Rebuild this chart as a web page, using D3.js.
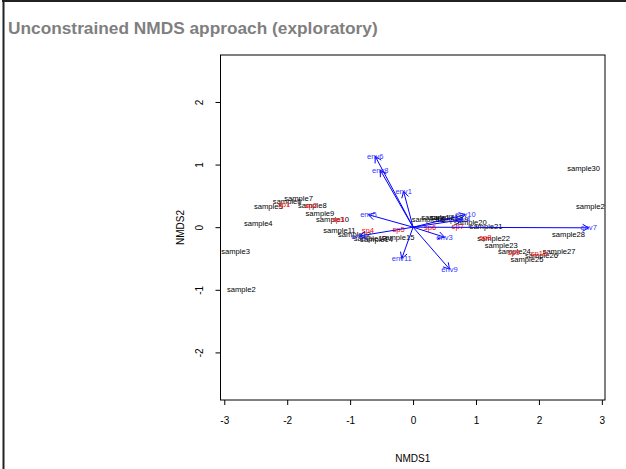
<!DOCTYPE html>
<html><head><meta charset="utf-8">
<script src="https://cdn.jsdelivr.net/npm/d3@7"></script>
<style>
body{margin:0;background:#fff;}
svg{display:block;font-family:"Liberation Sans",Arial,sans-serif;}
</style></head><body>
<svg id="chart" width="626" height="469"></svg>
<script>
const title = "Unconstrained NMDS approach (exploratory)";
const xTicks = [-3,-2,-1,0,1,2,3];
const yTicks = [-2,-1,0,1,2];
const sampleNames = ["sample2","sample3","sample4","sample5","sample6","sample7","sample8","sample9","sample10","sample11","sample12","sample13","sample14","sample15","sample16","sample17","sample18","sample19","sample20","sample21","sample22","sample23","sample24","sample25","sample26","sample27","sample28","sample29","sample30"];
const sampleX = [-2.73,-2.82,-2.46,-2.30,-2.00,-1.82,-1.60,-1.48,-1.28,-1.17,-0.93,-0.68,-0.58,-0.24,0.24,0.39,0.53,0.62,0.91,1.16,1.28,1.40,1.61,1.81,2.04,2.32,2.47,2.85,2.71];
const sampleY = [-0.99,-0.38,0.06,0.34,0.42,0.46,0.35,0.22,0.13,-0.05,-0.11,-0.18,-0.19,-0.16,0.12,0.15,0.16,0.13,0.07,0.02,-0.18,-0.29,-0.39,-0.51,-0.45,-0.38,-0.11,0.33,0.94];
const speciesNames = ["sp1","sp2","sp3","sp4","sp5","sp6","sp7","sp8","sp9","sp10"];
const speciesX = [-2.05,-1.62,-1.19,-0.72,-0.23,0.27,0.71,1.15,1.60,2.00];
const speciesY = [0.37,0.35,0.13,-0.05,-0.04,-0.01,0.02,-0.17,-0.40,-0.42];
const envNames = ["env1","env2","env3","env4","env5","env6","env7","env8","env9","env10","env11"];
const envX = [-0.15,-0.85,0.50,0.78,-0.71,-0.60,2.79,-0.52,0.58,0.83,-0.18];
const envY = [0.57,-0.14,-0.16,0.12,0.20,1.13,-0.01,0.91,-0.67,0.20,-0.50];

const svg = d3.select("#chart");
// slide frame
svg.append("line").attr("x1",2).attr("x2",626).attr("y1",1).attr("y2",1).attr("stroke","#222").attr("stroke-width",2);
svg.append("line").attr("x1",3.5).attr("x2",3.5).attr("y1",0).attr("y2",469).attr("stroke","#222").attr("stroke-width",2);
svg.append("text").attr("x",8).attr("y",34).attr("font-size",17.3).attr("font-weight","bold")
  .attr("fill","#7f7f7f").text(title);

const L=220.5, R=605, T=55, B=400;
const x = d3.scaleLinear().domain([-3.06,3.05]).range([L,R]);
const y = d3.scaleLinear().domain([-2.76,2.75]).range([B,T]);

// axes
const gx = svg.append("g").attr("transform",`translate(0,${B})`)
  .call(d3.axisBottom(x).tickValues(xTicks).tickSize(5).tickPadding(12).tickFormat(d3.format("d")));
const gy = svg.append("g").attr("transform",`translate(${L},0)`)
  .call(d3.axisLeft(y).tickValues(yTicks).tickSize(5).tickPadding(0).tickFormat(d3.format("d")));
[gx,gy].forEach(g=>{g.select(".domain").remove();g.selectAll("line").attr("stroke","#000");
  g.selectAll("text").attr("fill","#000").attr("font-size",10).attr("font-family","Liberation Sans, Arial, sans-serif");});
gx.selectAll(".tick text").text(d=>d<0?"-"+Math.abs(d):d);
gy.selectAll(".tick text").text(d=>d<0?"-"+Math.abs(d):d)
  .attr("transform","translate(-18,0) rotate(-90)").attr("text-anchor","middle").attr("dy","0.35em").attr("x",0);
gy.selectAll(".tick text").attr("transform","rotate(-90)").attr("x",0).attr("y",-18).attr("dy","0em").attr("text-anchor","middle");

svg.append("rect").attr("x",L).attr("y",T).attr("width",R-L).attr("height",B-T).attr("fill","none").attr("stroke","#000");
svg.append("text").attr("x",(L+R)/2).attr("y",462).attr("text-anchor","middle").attr("font-size",10).text("NMDS1");
svg.append("text").attr("transform",`translate(184,${(T+B)/2}) rotate(-90)`).attr("text-anchor","middle").attr("font-size",10).text("NMDS2");

svg.append("clipPath").attr("id","clip").append("rect").attr("x",L).attr("y",T).attr("width",R-L).attr("height",B-T);
const plot = svg.append("g").attr("clip-path","url(#clip)");

const lab = 7.6;
plot.selectAll("text.site").data(sampleNames).join("text").attr("class","site")
  .attr("x",(d,i)=>x(sampleX[i])).attr("y",(d,i)=>y(sampleY[i])).attr("dy","0.35em")
  .attr("text-anchor","middle").attr("font-size",lab).attr("fill","#000").text(d=>d);
plot.selectAll("text.sp").data(speciesNames).join("text").attr("class","sp")
  .attr("x",(d,i)=>x(speciesX[i])).attr("y",(d,i)=>y(speciesY[i])).attr("dy","0.35em")
  .attr("text-anchor","middle").attr("font-size",lab).attr("fill","#ff0000").text(d=>d);

const envG = plot.append("g");
envNames.forEach((n,i)=>{
  const x0=x(0), y0=y(0), x1=x(envX[i]), y1=y(envY[i]);
  envG.append("line").attr("x1",x0).attr("y1",y0).attr("x2",x1).attr("y2",y1).attr("stroke","#0000ff").attr("stroke-width",1);
  const a=Math.atan2(y1-y0,x1-x0), h=7, s=Math.PI/6;
  const p=[[x1-h*Math.cos(a-s),y1-h*Math.sin(a-s)],[x1,y1],[x1-h*Math.cos(a+s),y1-h*Math.sin(a+s)]];
  envG.append("path").attr("d",d3.line()(p)).attr("fill","none").attr("stroke","#0000ff").attr("stroke-width",1);
});
envG.selectAll("text").data(envNames).join("text")
  .attr("x",(d,i)=>x(envX[i])).attr("y",(d,i)=>y(envY[i])).attr("dy","0.35em")
  .attr("text-anchor","middle").attr("font-size",lab).attr("fill","#3333ff").text(d=>d);
</script></body></html>
